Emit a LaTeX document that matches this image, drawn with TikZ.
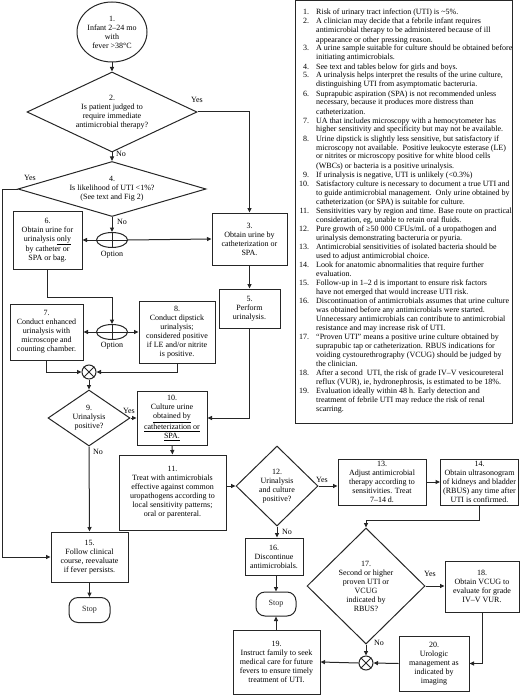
\documentclass[tikz,border=0pt]{standalone}
\usepackage{fontspec}
\setmainfont{Liberation Serif}
\usetikzlibrary{arrows.meta,shapes.geometric}
\newcommand\flowfont{\fontsize{8}{9}\selectfont}
\tikzset{
	every node/.style={font=\flowfont},
	ln/.style={line width=1pt, color=black!85},
	arr/.style={ln, -{Triangle[length=4.5pt,width=4pt]}},
	box/.style={ln, draw, rectangle, align=center, inner sep=1pt, text=black},
	dia/.style={ln, draw, diamond, inner sep=0pt},
	ell/.style={ln, draw, ellipse, inner sep=0pt},
	txt/.style={align=center, inner sep=0pt},
	opt/.style={ell, minimum width=31pt, minimum height=15pt},
	junc/.style={ln, draw, circle, minimum size=14pt, inner sep=0pt},
	stopbox/.style={ln, draw, rounded corners=9pt, minimum width=41pt, minimum height=25pt},
	lbl/.style={inner sep=0.5pt}
}

\begin{document}
\begin{tikzpicture}[x=1pt,y=-1pt]
	%%%%% START %%%%%
	\useasboundingbox (0,0) rectangle (520,695);

	\node[ell, minimum width=70pt, minimum height=60pt] (n1) at (112,32) {};
	\node[txt] (n1t) at (n1) {1.\\Infant 2--24 mo\\with\\fever >38°C};

	\node[dia, minimum width=170pt, minimum height=80pt] (d2) at (112,112) {};
	\node[txt] (d2t) at (d2) {2.\\Is patient judged to\\require immediate\\antimicrobial therapy?};

	\node[dia, minimum width=188pt, minimum height=55pt] (d4) at (112,189) {};
	\node[txt] (d4t) at (d4) {4.\\Is likelihood of UTI <1\%?\\(See text and Fig 2)};

	\node[opt] (o1) at (112,240) {};
	\node[lbl] (o1l) at (112,255) {Option};
	\node[opt] (o2) at (112,332) {};
	\node[lbl] (o2l) at (112,346) {Option};

	\node[box, minimum width=69pt, minimum height=58pt] (b6) at (47.5,240) {6.\\Obtain urine for\\urinalysis \underline{only}\\by catheter or\\SPA or bag.};
	\node[box, minimum width=75pt, minimum height=52pt] (b3) at (249.5,239) {3.\\Obtain urine by\\catheterization or\\SPA.};
	\node[box, minimum width=61pt, minimum height=39pt] (b5) at (249.5,308.5) {5.\\Perform\\urinalysis.};
	\node[box, minimum width=73pt, minimum height=56pt] (b7) at (46.5,332) {7.\\Conduct enhanced\\urinalysis with\\microscope and\\counting chamber.};
	\node[box, minimum width=76pt, minimum height=62pt] (b8) at (177,332) {8.\\Conduct dipstick\\urinalysis;\\considered positive\\if LE and/or nitrite\\is positive.};

	\node[junc] (j1) at (89,372) {};
	\node[dia, minimum width=82pt, minimum height=56pt] (d9) at (89,418) {};
	\node[txt] (d9t) at (d9) {9.\\Urinalysis\\positive?};

	\node[box, minimum width=70pt, minimum height=54pt] (b10) at (172,418) {10.\\Culture urine\\\underline{obtained by}\\\underline{catheterization or}\\\underline{SPA.}};
	\node[box, minimum width=107pt, minimum height=75pt] (b11) at (172.5,492.5) {11.\\Treat with antimicrobials\\effective against common\\uropathogens according to\\local sensitivity patterns;\\oral or parenteral.};

	\node[dia, minimum width=82pt, minimum height=80pt] (d12) at (277,486) {};
	\node[txt] (d12t) at (d12) {12.\\Urinalysis\\and culture\\positive?};
	\node[box, minimum width=88pt, minimum height=46pt] (b13) at (382,482) {13.\\Adjust antimicrobial\\therapy according to\\sensitivities. Treat\\7--14 d.};
	\node[box, minimum width=78pt, minimum height=46pt] (b14) at (479.5,482) {14.\\Obtain ultrasonogram\\of kidneys and bladder\\(RBUS) any time after\\UTI is confirmed.};

	\node[box, minimum width=77pt, minimum height=50pt] (b15) at (89.5,557) {15.\\Follow clinical\\course, reevaluate\\if fever persists.};
	\node[stopbox] (s1) at (89.5,610) {Stop};

	\node[box, minimum width=58pt, minimum height=37pt] (b16) at (274,556.5) {16.\\Discontinue\\antimicrobials.};
	\node[stopbox, minimum width=40pt, minimum height=24pt] (s2) at (276,604) {Stop};
	\node[box, minimum width=87pt, minimum height=64pt] (b19) at (276.5,662) {19.\\Instruct family to seek\\medical care for future\\fevers to ensure timely\\treatment of UTI.};

	\node[dia, minimum width=118pt, minimum height=116pt] (d17) at (366,586) {};
	\node[txt] (d17t) at (d17) {17.\\Second or higher\\proven UTI or\\VCUG\\indicated by\\RBUS?};
	\node[box, minimum width=74pt, minimum height=51pt] (b18) at (482,586.5) {18.\\Obtain VCUG to\\evaluate for grade\\IV--V VUR.};
	\node[box, minimum width=70pt, minimum height=55pt] (b20) at (434,663.5) {20.\\Urologic\\management as\\indicated by\\imaging};
	\node[junc] (j2) at (366,663) {};

	% crosses
	\draw[ln] (o1.north) -- (o1.south) (o1.west) -- (o1.east);
	\draw[ln] (o2.north) -- (o2.south) (o2.west) -- (o2.east);
	\draw[ln] (j1.45) -- (j1.225) (j1.135) -- (j1.315);
	\draw[ln] (j2.45) -- (j2.225) (j2.135) -- (j2.315);

	% connectors
	\draw[arr] (n1) -- (d2);
	\draw[arr] (d2.east) -| (b3.north);
	\node[lbl] (y2) at (197,100) {Yes};
	\draw[arr] (d2.south) -- (d4.north);
	\node[lbl] (n2) at (121,154) {No};
	\draw[arr] (d4.west) -- ++(-15,0) |- (b15.west);
	\node[lbl] (y4) at (30,178) {Yes};
	\draw[arr] (d4.south) -- (o1.north);
	\node[lbl] (n4) at (122,222) {No};
	\draw[arr] (o1.west) -- (b6.east);
	\draw[arr] (o1.east) -- (b3.west);
	\draw[arr] (b3.south) -- (b5.north);
	\draw[arr] (b6.south) -- ++(0,28) -| (o2.north);
	\draw[arr] (o2.west) -- (b7.east);
	\draw[arr] (o2.east) -- (b8.west);
	\draw[arr] (b7.south) |- (j1.west);
	\draw[arr] (b8.south) |- (j1.east);
	\draw[arr] (j1.south) -- (d9.north);
	\draw[arr] (d9.east) -- (b10.west);
	\node[lbl] (y9) at (129,411) {Yes};
	\draw[arr] (d9.south) -- (b15.north);
	\node[lbl] (n9) at (98,452) {No};
	\draw[arr] (b5.south) |- (b10.east);
	\draw[arr] (b10.south) -- (b11.north);
	\draw[arr] (d12.west -| b11.east) -- (d12.west);
	\draw[arr] (d12.east) -- (d12.east -| b13.west);
	\node[lbl] (y12) at (322,480) {Yes};
	\draw[arr] (d12.south) -- (b16.north -| d12.south);
	\node[lbl] (n12) at (287,532) {No};
	\draw[arr] (b13.east) -- (b14.west);
	\draw[arr] (b14.south) -- ++(0,15) -| (d17.north);
	\draw[arr] (d17.east) -- (d17.east -| b18.west);
	\node[lbl] (y17) at (430,574) {Yes};
	\draw[arr] (b18.south) |- (b20.east);
	\draw[arr] (b20.west) -- (j2.east);
	\draw[arr] (d17.south) -- (j2.north);
	\node[lbl] (n17) at (379,643) {No};
	\draw[arr] (j2.west) -- (b19.east);
	\draw[arr] (b19.north -| s2.south) -- (s2.south);
	\draw[arr] (b16.south -| s2.north) -- (s2.north);
	\draw[arr] (b15.south) -- (s1.north);

	% notes
	\node[box, minimum width=217pt, minimum height=422pt] (nb) at (403.5,212) {};
	\node[anchor=north west, inner sep=0pt, align=left] (nt) at (299,8.5) {%
		\begin{tabular}{@{}r@{\hspace{7pt}}l@{}}
		1. & Risk of urinary tract infection (UTI) is \textasciitilde5\%.\\
		2. & A clinician may decide that a febrile infant requires\\
		   & antimicrobial therapy to be administered because of ill\\
		   & appearance or other pressing reason.\\
		3. & A urine sample suitable for culture should be obtained before\\
		   & initiating antimicrobials.\\
		4. & See text and tables below for girls and boys.\\
		5. & A urinalysis helps interpret the results of the urine culture,\\
		   & distinguishing UTI from asymptomatic bacteruria.\\
		6. & Suprapubic aspiration (SPA) is not recommended unless\\
		   & necessary, because it produces more distress than\\
		   & catheterization.\\
		7. & UA that includes microscopy with a hemocytometer has\\
		   & higher sensitivity and specificity but may not be available.\\
		8. & Urine dipstick is slightly less sensitive, but satisfactory if\\
		   & microscopy not available.\ \ Positive leukocyte esterase (LE)\\
		   & or nitrites or microscopy positive for white blood cells\\
		   & (WBCs) or bacteria is a positive urinalysis.\\
		9. & If urinalysis is negative, UTI is unlikely (<0.3\%)\\
		10. & Satisfactory culture is necessary to document a true UTI and\\
		    & to guide antimicrobial management.\ \ Only urine obtained by\\
		    & catheterization (or SPA) is suitable for culture.\\
		11. & Sensitivities vary by region and time. Base route on practical\\
		    & consideration, eg, unable to retain oral fluids.\\
		12. & Pure growth of ≥50 000 CFUs/mL of a uropathogen and\\
		    & urinalysis demonstrating bacteruria or pyuria.\\
		13. & Antimicrobial sensitivities of isolated bacteria should be\\
		    & used to adjust antimicrobial choice.\\
		14. & Look for anatomic abnormalities that require further\\
		    & evaluation.\\
		15. & Follow-up in 1--2 d is important to ensure risk factors\\
		    & have not emerged that would increase UTI risk.\\
		16. & Discontinuation of antimicrobials assumes that urine culture\\
		    & was obtained before any antimicrobials were started.\\
		    & Unnecessary antimicrobials can contribute to antimicrobial\\
		    & resistance and may increase risk of UTI.\\
		17. & ``Proven UTI'' means a positive urine culture obtained by\\
		    & suprapubic tap or catheterization. RBUS indications for\\
		    & voiding cystourethrography (VCUG) should be judged by\\
		    & the clinician.\\
		18. & After a second\ \ UTI, the risk of grade IV--V vesicoureteral\\
		    & reflux (VUR), ie, hydronephrosis, is estimated to be 18\%.\\
		19. & Evaluation ideally within 48 h. Early detection and\\
		    & treatment of febrile UTI may reduce the risk of renal\\
		    & scarring.
		\end{tabular}};

	%%%%% END %%%%%
\end{tikzpicture}
\end{document}
